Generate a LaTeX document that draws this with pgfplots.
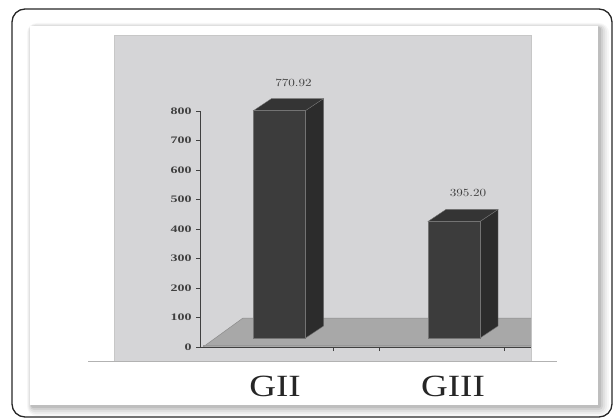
\documentclass[border=0pt]{standalone}
\usepackage{pgfplots}
\pgfplotsset{compat=1.18}
\usepackage{fontspec}
\setmainfont{Liberation Serif}
\usepackage{graphicx}

\definecolor{plotbg}{RGB}{213,213,215}
\definecolor{floorc}{RGB}{168,168,168}
\definecolor{barfront}{RGB}{60,60,60}
\definecolor{barside}{RGB}{44,44,44}
\definecolor{bartop}{RGB}{52,52,52}

\begin{document}
\begin{tikzpicture}
\begin{scope}[x=1bp,y=1bp]
\useasboundingbox (0,0) rectangle (613,418);

% soft shadow behind the white panel
\foreach \r/\o in {10/0.03,8/0.04,6/0.05,4/0.07,2/0.09}{
  \fill[black,opacity=\o,rounded corners=\r bp] (30-\r*0.5+2,13-\r-1) rectangle (598+\r+1,392+\r*0.5-2);
}
\fill[white] (30,13) rectangle (598,392);

% outer rounded frame
\draw[line width=1.3bp,black!85,rounded corners=13bp] (12,1) rectangle (612,409);

% plot area
\fill[plotbg] (114,57) rectangle (531,383);
\draw[black!22,line width=0.6bp] (114,57) -- (114,383) -- (531,383) -- (531,57);
\draw[black!30,line width=0.6bp] (88,57) -- (557,57);

% floor of the 3-D chart
\fill[floorc] (203,71) -- (531,71) -- (531,100) -- (243,100) -- cycle;
\draw[black!45,line width=0.5bp] (531,100) -- (243,100) -- (203,71);
\draw[black!40,line width=0.5bp] (203,73) -- (531,73);
\end{scope}

% value axis and category labels
\begin{axis}[
  at={(200bp,71bp)}, anchor=south west,
  scale only axis, width=331bp, height=236bp,
  xmin=200, xmax=531, ymin=0, ymax=800,
  clip=false,
  axis x line*=bottom, axis y line*=left,
  axis line style={black!75,line width=0.8bp},
  ytick={0,100,...,800},
  tick align=outside, major tick length=4bp,
  tick style={black!75,line width=0.8bp},
  /pgf/number format/assume math mode=true,
  yticklabel={\scalebox{1.4}[1]{\bfseries\pgfmathprintnumber{\tick}}},
  yticklabel style={font=\fontsize{10}{11}\selectfont,text=black!75,xshift=-1bp},
  xtick={333,379,504}, xticklabels={},
  extra x ticks={275,453},
  extra x tick labels={\scalebox{1.2}[1]{GII},\scalebox{1.2}[1]{GIII}},
  extra x tick style={
    tick style={draw=none},
    ticklabel style={font=\fontsize{31}{33}\selectfont,text=black!85,yshift=-22bp},
  },
]
\end{axis}

% bars, standing in the middle of the floor depth
\begin{axis}[
  at={(200bp,80bp)}, anchor=south west,
  scale only axis, width=331bp, height=236bp,
  xmin=200, xmax=531, ymin=0, ymax=800,
  clip=false, hide axis,
]
% side faces
\addplot[fill=barside,draw=black!55,line width=0.4bp] coordinates
  {(305.5,0) (323.5,40.7) (323.5,811.62) (305.5,770.92)} -- cycle;
\addplot[fill=barside,draw=black!55,line width=0.4bp] coordinates
  {(480,0) (498,40.7) (498,435.9) (480,395.20)} -- cycle;
% top faces
\addplot[fill=bartop,draw=black!55,line width=0.4bp] coordinates
  {(253.5,770.92) (305.5,770.92) (323.5,811.62) (271.5,811.62)} -- cycle;
\addplot[fill=bartop,draw=black!55,line width=0.4bp] coordinates
  {(428,395.20) (480,395.20) (498,435.9) (446,435.9)} -- cycle;
% front faces with value labels
\addplot[ybar, bar shift=0pt, bar width=52bp, fill=barfront, draw=black!55, line width=0.4bp,
  nodes near coords={\scalebox{1.2}[1]{\pgfmathprintnumber[fixed,fixed zerofill,precision=2]{\pgfplotspointmeta}}},
  every node near coord/.append style={anchor=center,xshift=14bp,yshift=28bp,
    font=\fontsize{11}{12}\selectfont,text=black!75},
] coordinates {(279.5,770.92) (454,395.20)};
\end{axis}
\end{tikzpicture}
\end{document}
